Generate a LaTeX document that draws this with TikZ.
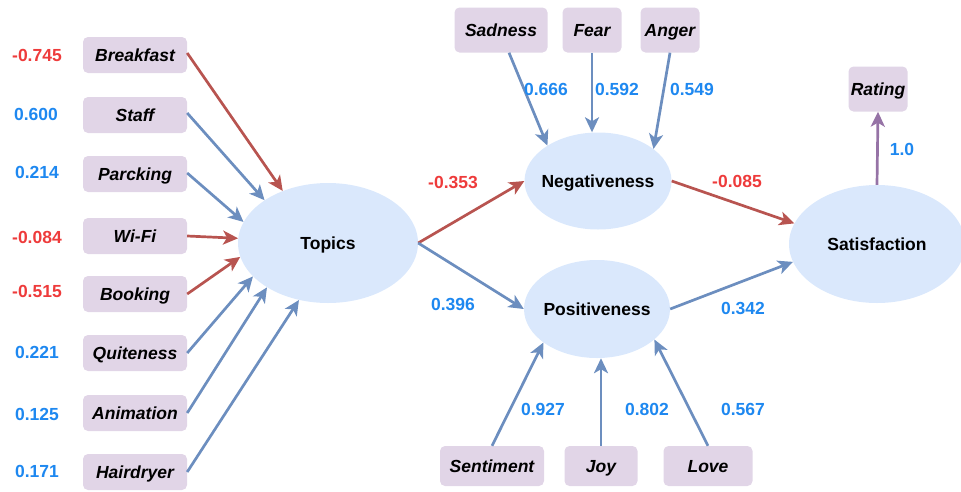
\documentclass[tikz,border=0pt]{standalone}
\usepackage{fontspec}
\setmainfont{Liberation Sans}
\usetikzlibrary{shapes.geometric,arrows.meta}
\definecolor{boxfill}{HTML}{E1D5E7}
\definecolor{ellfill}{HTML}{DAE8FC}
\definecolor{arrred}{HTML}{B85450}
\definecolor{arrblue}{HTML}{6C8EBF}
\definecolor{arrpurple}{HTML}{9673A6}
\definecolor{numred}{HTML}{EE3B3B}
\definecolor{numblue}{HTML}{1E88F0}
\tikzset{
  every node/.style={font=\fontsize{17.5}{19}\selectfont\bfseries, text height=12.5pt, text depth=0pt},
  obs/.style={fill=boxfill, rounded corners=5pt, inner sep=0pt, font=\fontsize{17.5}{19}\selectfont\bfseries\itshape},
  lat/.style={ellipse, fill=ellfill, inner sep=0pt},
  conn/.style={line width=2.7pt, -{Stealth[length=15pt,width=14pt,inset=4pt]}},
  redc/.style={conn, draw=arrred},
  bluec/.style={conn, draw=arrblue},
  purc/.style={conn, draw=arrpurple},
  rnum/.style={text=numred},
  bnum/.style={text=numblue},
}
\begin{document}
\begin{tikzpicture}[x=1pt,y=-1pt]
\useasboundingbox (0,0) rectangle (961,491);
% left observed
\node[obs, minimum width=104, minimum height=36] (breakfast) at (135,55) {Breakfast};
\node[obs, minimum width=104, minimum height=36] (staff) at (135,115) {Staff};
\node[obs, minimum width=104, minimum height=36] (parcking) at (135,174) {Parcking};
\node[obs, minimum width=104, minimum height=36] (wifi) at (135,236) {Wi-Fi};
\node[obs, minimum width=104, minimum height=36] (booking) at (135,294) {Booking};
\node[obs, minimum width=104, minimum height=36] (quiteness) at (135,353) {Quiteness};
\node[obs, minimum width=104, minimum height=36] (animation) at (135,413) {Animation};
\node[obs, minimum width=104, minimum height=36] (hairdryer) at (135,472) {Hairdryer};
% latent
\node[lat, minimum width=180, minimum height=120, label={center:Topics}] (topics) at (328,243) {};
\node[lat, minimum width=147, minimum height=97, label={center:Negativeness}] (neg) at (598,181) {};
\node[lat, minimum width=146, minimum height=98, label={center:Positiveness}] (pos) at (597,309) {};
\node[lat, minimum width=176, minimum height=118, label={center:Satisfaction}] (sat) at (877,244) {};
% top observed
\node[obs, minimum width=93, minimum height=45] (sadness) at (501,30) {Sadness};
\node[obs, minimum width=59, minimum height=45] (fear) at (592,30) {Fear};
\node[obs, minimum width=59, minimum height=45] (anger) at (670,30) {Anger};
\node[obs, minimum width=59, minimum height=45] (rating) at (878,89) {Rating};
% bottom observed
\node[obs, minimum width=104, minimum height=40] (sentiment) at (492,466) {Sentiment};
\node[obs, minimum width=73, minimum height=40] (joy) at (601,466) {Joy};
\node[obs, minimum width=89, minimum height=40] (love) at (708,466) {Love};
% left connectors
\draw[redc] ([yshift=2]breakfast.east) -- (topics.131);
\draw[bluec] ([yshift=2]staff.east) -- (topics.146);
\draw[bluec] ([yshift=1]parcking.east) -- (topics.166);
\draw[redc] (wifi.east) -- (topics.177);
\draw[redc] (booking.east) -- (topics.189);
\draw[bluec] (quiteness.east) -- (topics.204);
\draw[bluec] (animation.east) -- (topics.216);
\draw[bluec] (hairdryer.east) -- (topics.243);
% structural
\draw[redc] (topics.east) -- (neg.west);
\draw[bluec] (topics.east) -- (pos.west);
\draw[redc] (neg.east) -- (sat.166);
\draw[bluec] (pos.east) -- (sat.192);
\draw[purc] (sat.north) -- (rating.south);
% indicators
\draw[bluec] ([xshift=8]sadness.south) -- (neg.145);
\draw[bluec] (fear.south) -- (fear.south |- neg.north);
\draw[bluec] (anger.south) -- (neg.30);
\draw[bluec] (sentiment.north) -- (pos.212);
\draw[bluec] (joy.north) -- (joy.north |- pos.south);
\draw[bluec] (love.north) -- (pos.332);
% left labels
\node[rnum] (l1) at (37,55) {-0.745};
\node[bnum] (l2) at (36,114) {0.600};
\node[bnum] (l3) at (37,172) {0.214};
\node[rnum] (l4) at (37,237) {-0.084};
\node[rnum] (l5) at (37,291) {-0.515};
\node[bnum] (l6) at (37,352) {0.221};
\node[bnum] (l7) at (37,414) {0.125};
\node[bnum] (l8) at (37,471) {0.171};
% other labels
\node[bnum] (t1) at (546,89) {0.666};
\node[bnum] (t2) at (617,89) {0.592};
\node[bnum] (t3) at (692,89) {0.549};
\node[rnum] (m1) at (453,182) {-0.353};
\node[bnum] (m2) at (453,304) {0.396};
\node[rnum] (m3) at (737,181) {-0.085};
\node[bnum] (m4) at (743,308) {0.342};
\node[bnum] (m5) at (902,149) {1.0};
\node[bnum] (b1) at (543,409) {0.927};
\node[bnum] (b2) at (647,409) {0.802};
\node[bnum] (b3) at (743,409) {0.567};
\end{tikzpicture}
\end{document}
